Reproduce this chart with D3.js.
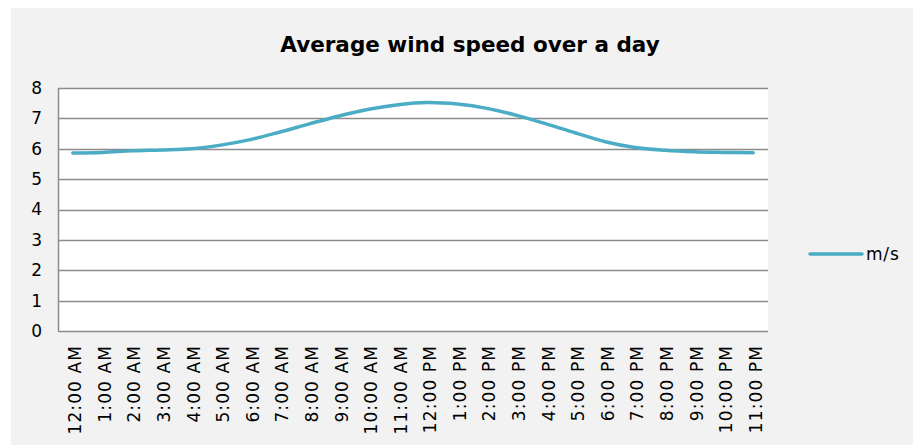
<!DOCTYPE html>
<html>
<head>
<meta charset="utf-8">
<script src="https://cdn.jsdelivr.net/npm/d3@7"></script>
<style>
  html, body { margin: 0; padding: 0; background: #ffffff; }
  svg { display: block; }
</style>
</head>
<body>
<div id="chart"></div>
<script>
const title = "Average wind speed over a day";
const categories = ["12:00 AM","1:00 AM","2:00 AM","3:00 AM","4:00 AM","5:00 AM","6:00 AM","7:00 AM","8:00 AM","9:00 AM","10:00 AM","11:00 AM",
  "12:00 PM","1:00 PM","2:00 PM","3:00 PM","4:00 PM","5:00 PM","6:00 PM","7:00 PM","8:00 PM","9:00 PM","10:00 PM","11:00 PM"];
const seriesName = "m/s";
const speeds = [5.86, 5.88, 5.93, 5.96, 6.0, 6.12, 6.3, 6.55, 6.82, 7.08, 7.3, 7.45,
  7.52, 7.47, 7.33, 7.1, 6.82, 6.52, 6.23, 6.04, 5.95, 5.9, 5.88, 5.87];
const yTicks = [0, 1, 2, 3, 4, 5, 6, 7, 8];

const W = 913, H = 445;
const font = "'DejaVu Sans', Verdana, sans-serif";
const svg = d3.select("#chart").append("svg").attr("width", W).attr("height", H);

svg.append("rect").attr("x", 11).attr("y", 8).attr("width", W - 11).attr("height", H - 8).attr("fill", "#f2f2f2");

const plot = { left: 58, right: 768, top: 88, bottom: 331 };

const x = d3.scaleBand().domain(categories).range([plot.left, plot.right]);
const y = d3.scaleLinear().domain([0, 8]).range([plot.bottom, plot.top]);

svg.append("rect").attr("x", plot.left).attr("y", plot.top)
  .attr("width", plot.right - plot.left).attr("height", plot.bottom - plot.top).attr("fill", "#ffffff");

svg.append("text").attr("x", 470).attr("y", 52).attr("text-anchor", "middle")
  .attr("font-family", font).attr("font-weight", "bold").attr("font-size", "21.5px").attr("fill", "#000")
  .text(title);

// gridlines
svg.append("g").selectAll("line").data(yTicks).join("line")
  .attr("x1", plot.left).attr("x2", plot.right)
  .attr("y1", d => Math.round(y(d)) + 0.5).attr("y2", d => Math.round(y(d)) + 0.5)
  .attr("stroke", "#8c8c8c").attr("stroke-width", 1.5);

// left axis line
svg.append("line").attr("x1", plot.left + 0.5).attr("x2", plot.left + 0.5)
  .attr("y1", plot.top).attr("y2", plot.bottom + 0.5)
  .attr("stroke", "#8c8c8c").attr("stroke-width", 1.5);

// y axis via d3 axis
const yAxis = svg.append("g").attr("transform", `translate(${plot.left},0)`)
  .call(d3.axisLeft(y).tickValues(yTicks).tickSize(0).tickPadding(16));
yAxis.select(".domain").remove();
yAxis.selectAll("text").attr("font-family", font).attr("font-size", "17px").attr("fill", "#000");

// x axis labels
const xAxis = svg.append("g").attr("transform", `translate(0,${plot.bottom})`)
  .call(d3.axisBottom(x).tickSize(0).tickPadding(0));
xAxis.select(".domain").remove();
xAxis.selectAll("text")
  .attr("font-family", font).attr("font-size", "17px").attr("fill", "#000")
  .attr("letter-spacing", "1.1px")
  .attr("text-anchor", "end")
  .attr("transform", "translate(2,14) rotate(-90)")
  .attr("x", 0).attr("y", 0).attr("dy", "0.38em");

// line
const line = d3.line()
  .x((d, i) => x(categories[i]) + x.bandwidth() / 2)
  .y(d => y(d))
  .curve(d3.curveCatmullRom.alpha(0.5));

svg.append("path").datum(speeds).attr("d", line)
  .attr("fill", "none").attr("stroke", "#4bacc6").attr("stroke-width", 3.5).attr("stroke-linecap", "round");

// legend
svg.append("line").attr("x1", 810).attr("x2", 862).attr("y1", 254).attr("y2", 254)
  .attr("stroke", "#4bacc6").attr("stroke-width", 3.5).attr("stroke-linecap", "round");
svg.append("text").attr("x", 866).attr("y", 254).attr("dy", "0.35em")
  .attr("font-family", font).attr("font-size", "17px").attr("letter-spacing", "0.8px").attr("fill", "#000").text(seriesName);
</script>
</body>
</html>
